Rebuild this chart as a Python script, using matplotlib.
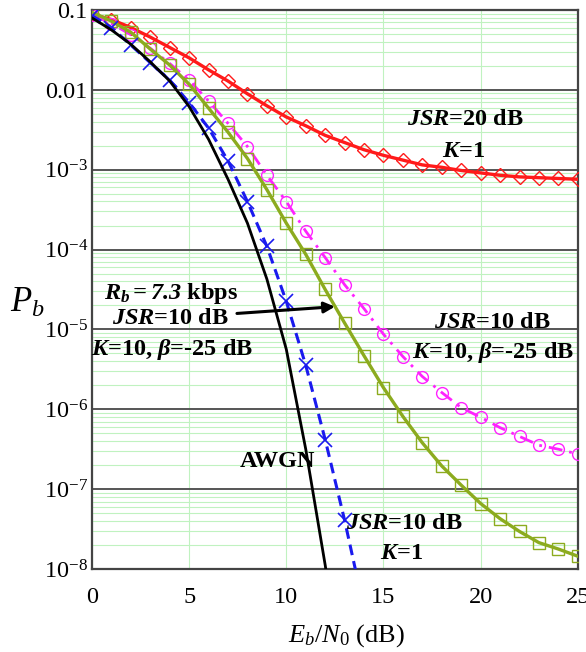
import matplotlib
matplotlib.use("Agg")
import matplotlib.pyplot as plt
import numpy as np

plt.rcParams['font.family'] = ['Liberation Serif', 'DejaVu Serif']
plt.rcParams['mathtext.fontset'] = 'custom'
plt.rcParams['mathtext.rm'] = 'Liberation Serif'
plt.rcParams['mathtext.it'] = 'Liberation Serif:italic'
plt.rcParams['mathtext.bf'] = 'Liberation Serif:bold'
plt.rcParams['mathtext.bfit'] = 'Liberation Serif:bold:italic'

# Eb/N0 grid (dB)
ebn0 = np.arange(0, 26)

# log10(Pb) for each curve
jsr20_k1 = [-1.05, -1.12, -1.22, -1.34, -1.47, -1.60, -1.75, -1.89, -2.05, -2.20,
            -2.34, -2.45, -2.57, -2.66, -2.75, -2.82, -2.88, -2.94, -2.97, -3.01,
            -3.04, -3.07, -3.09, -3.10, -3.11, -3.12]
jsr10_k10 = [-1.06, -1.17, -1.31, -1.48, -1.67, -1.88, -2.14, -2.42, -2.71, -3.07,
             -3.40, -3.77, -4.10, -4.44, -4.74, -5.06, -5.34, -5.59, -5.79, -5.98,
             -6.10, -6.23, -6.34, -6.45, -6.50, -6.56]
jsr10_k10_rb = [-1.03, -1.14, -1.28, -1.49, -1.69, -1.93, -2.23, -2.53, -2.86, -3.25,
                -3.67, -4.06, -4.50, -4.92, -5.33, -5.73, -6.09, -6.42, -6.71, -6.95,
                -7.18, -7.37, -7.53, -7.67, -7.75, -7.84]
ebn0_k1 = np.arange(0, 15)
jsr10_k1 = [-1.07, -1.22, -1.44, -1.66, -1.88, -2.16, -2.48, -2.89, -3.40, -3.96,
            -4.65, -5.45, -6.38, -7.39, -8.50]
ebn0_awgn = [0, 1, 2, 3, 4, 5, 6, 7, 8, 9, 10, 11, 12, 12.5]
awgn = [-1.10, -1.25, -1.43, -1.65, -1.89, -2.21, -2.62, -3.12, -3.67, -4.37,
        -5.25, -6.50, -7.95, -8.75]

yticks = [1e-1, 1e-2, 1e-3, 1e-4, 1e-5, 1e-6, 1e-7, 1e-8]
ytick_labels = ['0.1', '0.01'] + [r'$\mathregular{10^{-%d}}$' % k for k in range(3, 9)]

fig = plt.figure(figsize=(5.86, 6.52), dpi=100)
ax = fig.add_axes([0.157, 0.1273, 0.829, 0.8574])

ax.plot(ebn0, 10 ** np.array(jsr20_k1), color='#ff1a1a', lw=2.4, marker='D',
        ms=7.5, mfc='none', mec='#ff1a1a', mew=1.0, zorder=3)
ax.plot(ebn0, 10 ** np.array(jsr10_k10), color='#ff22ff', lw=2.0,
        ls=(0, (5, 2.5, 1, 2.5)), marker='o', ms=8.5, mfc='none', mec='#ff22ff',
        mew=1.0, zorder=3)
ax.plot(ebn0, 10 ** np.array(jsr10_k10_rb), color='#8cab1e', lw=2.4, marker='s',
        ms=8.5, mfc='none', mec='#8cab1e', mew=1.0, zorder=4)
ax.plot(ebn0_k1, 10 ** np.array(jsr10_k1), color='#1a1aee', lw=2.2,
        ls=(0, (3.5, 2)), marker='x', ms=10, mew=1.2, markevery=slice(0, 14),
        zorder=4)
ax.plot(ebn0_awgn, 10 ** np.array(awgn), color='black', lw=2.0, zorder=5)

ax.set_yscale('log')
ax.set_xlim(0, 25)
ax.set_ylim(1e-8, 0.1)
ax.set_xticks([0, 5, 10, 15, 20, 25])
ax.set_yticks(yticks)
ax.set_yticklabels(ytick_labels)
ax.tick_params(axis='both', which='both', length=0, labelsize=17.5)
ax.tick_params(axis='x', pad=13)
ax.tick_params(axis='y', pad=3)
ax.tick_params(axis='y', which='minor', labelleft=False)

ax.grid(True, axis='y', which='minor', color='#c0f2c0', lw=0.8)
ax.grid(True, axis='x', which='major', color='#c0f2c0', lw=0.8)
ax.grid(True, axis='y', which='major', color='#555555', lw=1.4)
ax.set_axisbelow(True)
for sp in ax.spines.values():
    sp.set_color('#444444')
    sp.set_linewidth(1.6)

ax.set_xlabel(r'$\mathit{E_b/N_0}$ (dB)', fontsize=19)
ax.xaxis.set_label_coords(0.523, -0.095)
ax.set_ylabel(r'$\mathit{P_b}$', fontsize=25, rotation=0, ha='center', va='center')
ax.yaxis.set_label_coords(-0.133, 0.475)

txt = dict(fontsize=17.5, fontweight='bold', ha='center', va='center', zorder=6)
ax.text(4.06, 10 ** -4.544, r'$\mathbfit{R}_{\mathbfit{b}}\mathbfit{=7.3}$ kbps', **txt)
ax.text(4.06, 10 ** -4.869, r'$\mathbfit{JSR}$=10 dB', **txt)
ax.text(4.10, 10 ** -5.257, r'$\mathbfit{K}$=10, $\mathbfit{β}$=-25 dB', **txt)
ax.text(19.24, 10 ** -2.377, r'$\mathbfit{JSR}$=20 dB', **txt)
ax.text(19.14, 10 ** -2.778, r'$\mathbfit{K}$=1', **txt)
ax.text(20.63, 10 ** -4.919, r'$\mathbfit{JSR}$=10 dB', **txt)
ax.text(20.63, 10 ** -5.295, r'$\mathbfit{K}$=10, $\mathbfit{β}$=-25 dB', **txt)
ax.text(16.10, 10 ** -7.424, r'$\mathbfit{JSR}$=10 dB', **txt)
ax.text(15.95, 10 ** -7.800, r'$\mathbfit{K}$=1', **txt)
ax.text(9.57, 10 ** -6.660, 'AWGN', **txt)

ax.annotate('', xy=(12.5, 10 ** -4.715), xytext=(7.46, 10 ** -4.80),
            arrowprops=dict(arrowstyle='-|>', color='black', lw=2.2,
                            mutation_scale=16, shrinkA=0, shrinkB=0),
            zorder=6)

fig.savefig('out.png', dpi=100)
